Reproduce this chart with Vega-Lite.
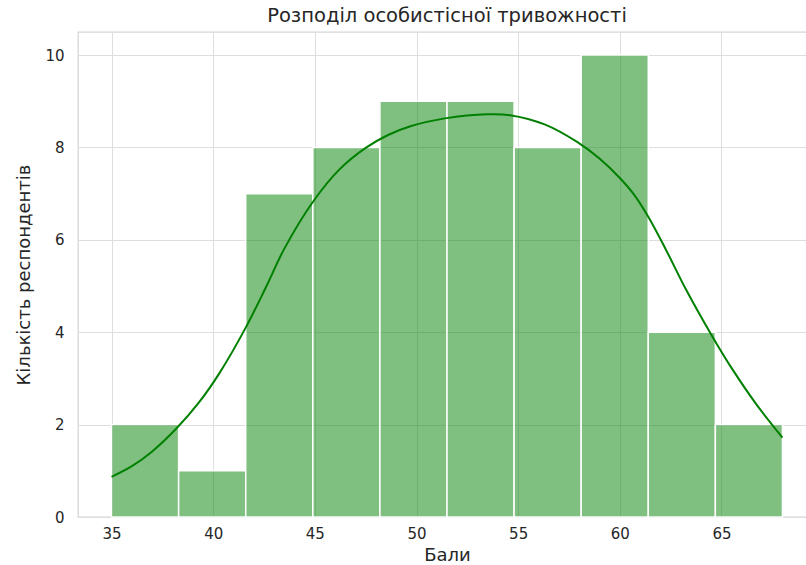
{
  "$schema": "https://vega.github.io/schema/vega-lite/v6.json",
  "autosize": "none",
  "padding": {"left": 78, "top": 32, "right": 0, "bottom": 48},
  "width": 738,
  "height": 485,
  "background": "white",
  "title": {"text": "Розподіл особистісної тривожності", "font": "DejaVu Sans", "fontSize": 19.5, "fontWeight": "normal", "color": "#262626", "offset": 6, "anchor": "middle"},
  "config": {
    "view": {"stroke": "#d6d6d6", "strokeWidth": 1.3},
    "axis": {"gridColor": "#dedede", "gridWidth": 1, "domain": false, "ticks": false, "labelFont": "DejaVu Sans", "labelFontSize": 15, "labelColor": "#262626", "titleFont": "DejaVu Sans", "titleFontSize": 18, "titleFontWeight": "normal", "titleColor": "#262626"}
  },
  "datasets": {
    "bins": [
      {"start": 35.0, "end": 38.3, "count": 2},
      {"start": 38.3, "end": 41.6, "count": 1},
      {"start": 41.6, "end": 44.9, "count": 7},
      {"start": 44.9, "end": 48.2, "count": 8},
      {"start": 48.2, "end": 51.5, "count": 9},
      {"start": 51.5, "end": 54.8, "count": 9},
      {"start": 54.8, "end": 58.1, "count": 8},
      {"start": 58.1, "end": 61.4, "count": 10},
      {"start": 61.4, "end": 64.7, "count": 4},
      {"start": 64.7, "end": 68.0, "count": 2}
    ],
    "kde": [
      {"x": 35.0, "y": 0.87},
      {"x": 36.0, "y": 1.10},
      {"x": 37.0, "y": 1.42},
      {"x": 38.2, "y": 1.92},
      {"x": 39.3, "y": 2.48},
      {"x": 40.3, "y": 3.11},
      {"x": 41.6, "y": 4.10},
      {"x": 42.6, "y": 4.98},
      {"x": 43.5, "y": 5.81},
      {"x": 44.9, "y": 6.82},
      {"x": 46.2, "y": 7.52},
      {"x": 47.5, "y": 7.99},
      {"x": 48.6, "y": 8.27},
      {"x": 49.7, "y": 8.46},
      {"x": 51.4, "y": 8.63},
      {"x": 53.5, "y": 8.72},
      {"x": 54.6, "y": 8.70},
      {"x": 56.3, "y": 8.50},
      {"x": 57.9, "y": 8.12},
      {"x": 59.0, "y": 7.76},
      {"x": 60.0, "y": 7.34},
      {"x": 60.7, "y": 6.98},
      {"x": 61.4, "y": 6.50},
      {"x": 62.3, "y": 5.76},
      {"x": 63.25, "y": 4.93},
      {"x": 64.55, "y": 3.91},
      {"x": 65.55, "y": 3.19},
      {"x": 66.7, "y": 2.45},
      {"x": 68.0, "y": 1.72}
    ]
  },
  "layer": [
    {
      "data": {"name": "bins"},
      "mark": {"type": "rect", "fill": "#008000", "fillOpacity": 0.5, "stroke": "white", "strokeWidth": 1.5},
      "encoding": {
        "x": {"field": "start", "type": "quantitative", "scale": {"domain": [33.35, 69.65], "nice": false, "zero": false}, "axis": {"values": [35, 40, 45, 50, 55, 60, 65], "title": "Бали", "labelPadding": 9, "titlePadding": 5, "grid": true}},
        "x2": {"field": "end"},
        "y": {"field": "count", "type": "quantitative", "scale": {"domain": [0, 10.5], "nice": false}, "axis": {"values": [0, 2, 4, 6, 8, 10], "title": "Кількість респондентів", "labelPadding": 14, "titlePadding": 11}},
        "y2": {"datum": 0}
      }
    },
    {
      "data": {"name": "kde"},
      "mark": {"type": "line", "color": "#008000", "strokeWidth": 2, "interpolate": "catmull-rom"},
      "encoding": {
        "x": {"field": "x", "type": "quantitative"},
        "y": {"field": "y", "type": "quantitative"}
      }
    }
  ]
}
